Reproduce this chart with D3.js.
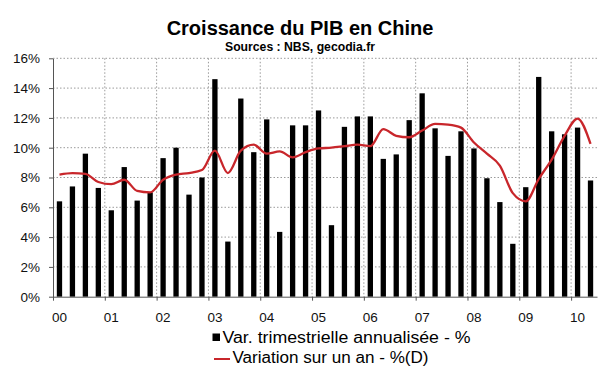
<!DOCTYPE html>
<html>
<head>
<meta charset="utf-8">
<script src="https://cdn.jsdelivr.net/npm/d3@7"></script>
<style>
  body { margin: 0; background: #fff; }
  svg { display: block; font-family: 'Liberation Sans', Arial, sans-serif; }
  .grid line { stroke: #9a9a9a; stroke-dasharray: 1.5,2; stroke-width: 1; }
  .axis path, .axis line { stroke: #555; }
  .axis text { font-size: 13.5px; fill: #111; }
</style>
</head>
<body>
<svg id="chart" width="600" height="372"></svg>
<script>
const years = ['00', '01', '02', '03', '04', '05', '06', '07', '08', '09', '10']
const quarters = ['T1', 'T2', 'T3', 'T4']

// variation trimestrielle annualisee, 2000 T1 -> 2010 T2
const qoqValues = [
  6.4, 7.4, 9.6, 7.3,
  5.8, 8.7, 6.45, 7.0,
  9.3, 10.0, 6.85, 8.0,
  14.6, 3.7, 13.3, 9.7,
  11.9, 4.35, 11.5, 11.5,
  12.5, 4.8, 11.4, 12.1,
  12.1, 9.25, 9.55, 11.85,
  13.65, 11.3, 9.45, 11.1,
  9.95, 7.95, 6.35, 3.55,
  7.35, 14.75, 11.1, 10.9,
  11.35, 7.8,
]

// variation sur un an
const yoyValues = [
  8.2, 8.3, 8.25, 7.7,
  7.55, 7.85, 7.1, 7.0,
  7.85, 8.2, 8.3, 8.5,
  9.8, 8.3, 9.8, 10.2,
  9.6, 9.75, 9.35, 9.7,
  9.95, 10.0, 10.1, 10.2,
  10.1, 11.25, 10.8, 10.7,
  11.15, 11.6, 11.55, 11.35,
  10.35, 9.6, 8.8, 6.95,
  6.4, 7.9, 9.2, 10.8,
  11.95, 10.25,
]

const yTicks = [0, 2, 4, 6, 8, 10, 12, 14, 16]

const periods = []
years.forEach((y) => quarters.forEach((q) => periods.push(y + q)))
periods.length = qoqValues.length

const data = periods.map((p, i) => ({ p: p, qoq: qoqValues[i], yoy: yoyValues[i] }))

const plotLeft = 53
const plotRight = 597
const plotTop = 58.3
const plotBottom = 296.7

const svg = d3.select('#chart')

const xs = d3.scaleBand().domain(periods).range([plotLeft, plotRight])
  .paddingInner(0.59).paddingOuter(0.295)
const xYear = d3.scaleLinear().domain([0, periods.length / 4]).range([plotLeft, plotRight])
const ys = d3.scaleLinear().domain([0, 16]).range([plotBottom, plotTop])

// grid
svg.append('g').classed('grid', true)
  .selectAll('line')
  .data(yTicks.slice(1))
  .join('line')
  .attr('x1', plotLeft).attr('x2', plotRight)
  .attr('y1', (d) => ys(d)).attr('y2', (d) => ys(d))

svg.append('g').classed('grid', true)
  .selectAll('line')
  .data(d3.range(1, years.length))
  .join('line')
  .attr('x1', (d) => xYear(d)).attr('x2', (d) => xYear(d))
  .attr('y1', plotTop).attr('y2', plotBottom)

// bars
svg.append('g')
  .selectAll('rect')
  .data(data)
  .join('rect')
  .attr('x', (d) => xs(d.p))
  .attr('width', xs.bandwidth())
  .attr('y', (d) => ys(d.qoq))
  .attr('height', (d) => ys(0) - ys(d.qoq))
  .attr('fill', '#000')

// line
const line = d3.line()
  .x((d) => xs(d.p) + xs.bandwidth() / 2)
  .y((d) => ys(d.yoy))
  .curve(d3.curveMonotoneX)

svg.append('path')
  .datum(data)
  .attr('d', line)
  .attr('fill', 'none')
  .attr('stroke', '#c8262b')
  .attr('stroke-width', 2.3)
  .attr('stroke-linejoin', 'round')

// axes
svg.append('g').classed('axis', true)
  .attr('transform', `translate(${plotLeft},0)`)
  .call(d3.axisLeft(ys).tickValues(yTicks).tickFormat((d) => d + '%').tickSize(4).tickSizeOuter(0).tickPadding(9))

svg.append('g').classed('axis', true)
  .attr('transform', `translate(0,${plotBottom})`)
  .call(d3.axisBottom(xYear).tickValues(d3.range(0, years.length)).tickFormat('').tickSize(4).tickSizeOuter(0))

svg.append('g').classed('axis', true)
  .attr('transform', `translate(0,${plotBottom})`)
  .call(d3.axisBottom(xs).tickValues(years.map((y) => y + 'T1')).tickFormat((d) => d.slice(0, 2)).tickSize(0).tickPadding(16))
  .call((g) => g.select('.domain').remove())

// titles
svg.append('text')
  .attr('x', 300).attr('y', 34.5)
  .attr('text-anchor', 'middle')
  .attr('font-size', 20).attr('font-weight', 'bold')
  .text('Croissance du PIB en Chine')

svg.append('text')
  .attr('x', 300).attr('y', 50.7)
  .attr('text-anchor', 'middle')
  .attr('font-size', 12).attr('font-weight', 'bold')
  .attr('textLength', 150).attr('lengthAdjust', 'spacingAndGlyphs')
  .text('Sources : NBS, gecodia.fr')

// legend
const legend = svg.append('g')
legend.append('rect')
  .attr('x', 212.5).attr('y', 333.5).attr('width', 7.5).attr('height', 7.5)
  .attr('fill', '#000')
legend.append('text')
  .attr('x', 222.5).attr('y', 342.5)
  .attr('font-size', 16)
  .attr('textLength', 248).attr('lengthAdjust', 'spacingAndGlyphs')
  .text('Var. trimestrielle annualisée - %')
legend.append('line')
  .attr('x1', 214).attr('x2', 230).attr('y1', 359).attr('y2', 359)
  .attr('stroke', '#c8262b').attr('stroke-width', 2)
legend.append('text')
  .attr('x', 232.5).attr('y', 363)
  .attr('font-size', 16)
  .attr('textLength', 196).attr('lengthAdjust', 'spacingAndGlyphs')
  .text('Variation sur un an - %(D)')
</script>
</body>
</html>
